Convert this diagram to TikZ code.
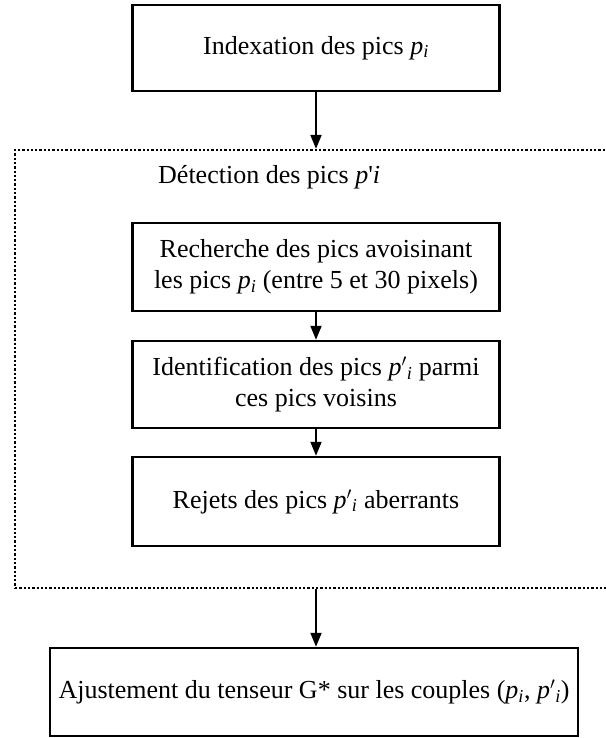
\documentclass[tikz,border=0pt]{standalone}
\usepackage{fontspec}
\setmainfont{Liberation Serif}
\usetikzlibrary{arrows.meta}
\newcommand{\pk}{\textit{p}\textsubscript{\textit{i}}}
\newcommand{\pkp}{\textit{p}$'$\textsubscript{\textit{i}}}
\begin{document}
\begin{tikzpicture}[x=1pt, y=-1pt,
  every node/.style={font=\fontsize{26}{31}\selectfont, align=center},
  etape/.style={draw, line width=2.5pt, minimum width=367pt, inner sep=0pt},
  groupe/.style={draw, line width=2.3pt, dash pattern=on 2.3pt off 2pt},
  fleche/.style={line width=2pt, -{Triangle[length=14pt, width=11pt]}}]
\useasboundingbox (0,0) rectangle (605,738);
\node[groupe, minimum width=592pt, minimum height=438pt] (grp) at (311,369) {};
\node[anchor=west, inner sep=0pt] (titre) at (158,177) {Détection des pics \textit{p}\textquotesingle\textit{i}};
\node[etape, minimum height=86pt] (P_0) at (316,48) {Indexation des pics \pk};
\node[etape, minimum height=88pt] (P_1) at (316,267) {Recherche des pics avoisinant\\les pics \pk{} (entre 5 et 30 pixels)};
\node[etape, minimum height=87pt] (P_2) at (316,384.5) {Identification des pics \pkp{} parmi\\ces pics voisins};
\node[etape, minimum height=89pt] (P_3) at (316,501.5) {Rejets des pics \pkp{} aberrants};
\node[etape, minimum width=528pt, minimum height=88pt] (P_4) at (314,692) {Ajustement du tenseur G* sur les couples (\pk, \pkp)};
\draw[fleche] (P_0) -- (P_0.south |- grp.north);
\draw[fleche] (P_1) -- (P_2);
\draw[fleche] (P_2) -- (P_3);
\draw[fleche] (P_0.south |- grp.south) -- (P_0.south |- P_4.north);
\end{tikzpicture}
\end{document}
